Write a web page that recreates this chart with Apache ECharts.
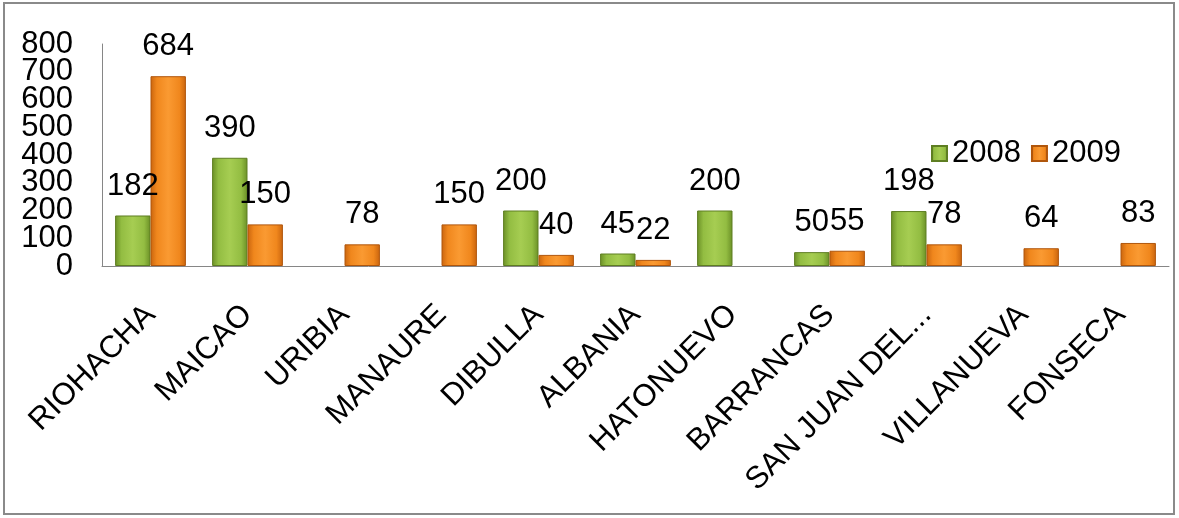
<!DOCTYPE html>
<html><head><meta charset="utf-8">
<script src="https://cdn.jsdelivr.net/npm/echarts@6/dist/echarts.min.js"></script>
<style>html,body{margin:0;padding:0;background:#fff}#c{width:1179px;height:518px}</style>
</head><body><div id="c"></div>
<script>
const categories = ['RIOHACHA','MAICAO','URIBIA','MANAURE','DIBULLA','ALBANIA','HATONUEVO','BARRANCAS','SAN JUAN DEL...','VILLANUEVA','FONSECA'];
const values2008 = [182, 390, null, null, 200, 45, 200, 50, 198, null, null];
const values2009 = [684, 150, 78, 150, 40, 22, null, 55, 78, 64, 83];
const seriesNames = ['2008', '2009'];
const yMin = 0, yMax = 800, yStep = 100;

const FONT = "'Liberation Sans', Arial, sans-serif";
function grad(edge, light, mid) {
  return new echarts.graphic.LinearGradient(0, 0, 1, 0, [
    {offset: 0, color: edge},
    {offset: 0.18, color: mid},
    {offset: 0.5, color: light},
    {offset: 0.82, color: mid},
    {offset: 1, color: edge}
  ]);
}
const greenFill = grad('#6a8f26', '#a6cd52', '#93bd42');
const orangeFill = grad('#c9640e', '#fa9a32', '#f0871d');

const chart = echarts.init(document.getElementById('c'), null, {renderer: 'canvas'});
const labelCfg = {
  show: true, position: 'top', distance: 14,
  fontSize: 31, fontFamily: FONT, color: '#000'
};
const yLabelBase = {margin: 29, fontSize: 31, fontFamily: FONT, color: '#000'};
chart.setOption({
  animation: false,
  backgroundColor: '#fff',
  graphic: [{
    type: 'rect', silent: true, z: -1,
    shape: {x: 4, y: 3, width: 1170, height: 511},
    style: {fill: 'none', stroke: '#8a8a8a', lineWidth: 2}
  }],
  grid: {left: 102, right: 10, top: 44, bottom: 252, containLabel: false},
  legend: {
    left: 926, top: 133, itemWidth: 15, itemHeight: 15, itemGap: 10,
    icon: 'rect',
    textStyle: {fontSize: 31, fontFamily: FONT, color: '#000'},
    data: seriesNames
  },
  xAxis: {
    type: 'category', data: categories,
    axisTick: {show: false},
    axisLine: {lineStyle: {color: '#868686', width: 1}},
    axisLabel: {
      rotate: 45, interval: 0, margin: 44, hideOverlap: false,
      overflow: 'none', width: 400,
      fontSize: 31, fontFamily: FONT, color: '#000'
    }
  },
  yAxis: [
    {
      type: 'value', min: yMin, max: yMax, interval: yStep, position: 'left',
      splitLine: {show: false},
      axisTick: {show: false},
      axisLine: {show: true, lineStyle: {color: '#868686', width: 1}},
      axisLabel: Object.assign({}, yLabelBase, {
        showMinLabel: true, showMaxLabel: true,
        formatter: v => (v / yStep) % 2 === 0 ? String(v) : ''
      })
    },
    {
      type: 'value', min: yMin, max: yMax, interval: yStep, position: 'left',
      splitLine: {show: false},
      axisTick: {show: false},
      axisLine: {show: false},
      axisLabel: Object.assign({}, yLabelBase, {
        showMinLabel: false, showMaxLabel: false,
        formatter: v => (v / yStep) % 2 === 1 ? String(v) : ''
      })
    }
  ],
  series: [
    {
      name: seriesNames[0], type: 'bar', data: values2008, yAxisIndex: 0,
      barGap: '0%', barCategoryGap: '27%',
      itemStyle: {color: greenFill, borderColor: '#5e7e22', borderWidth: 1},
      label: labelCfg
    },
    {
      name: seriesNames[1], type: 'bar', data: values2009, yAxisIndex: 0,
      barGap: '0%', barCategoryGap: '27%',
      itemStyle: {color: orangeFill, borderColor: '#b0560c', borderWidth: 1},
      label: labelCfg
    }
  ]
});
</script></body></html>
